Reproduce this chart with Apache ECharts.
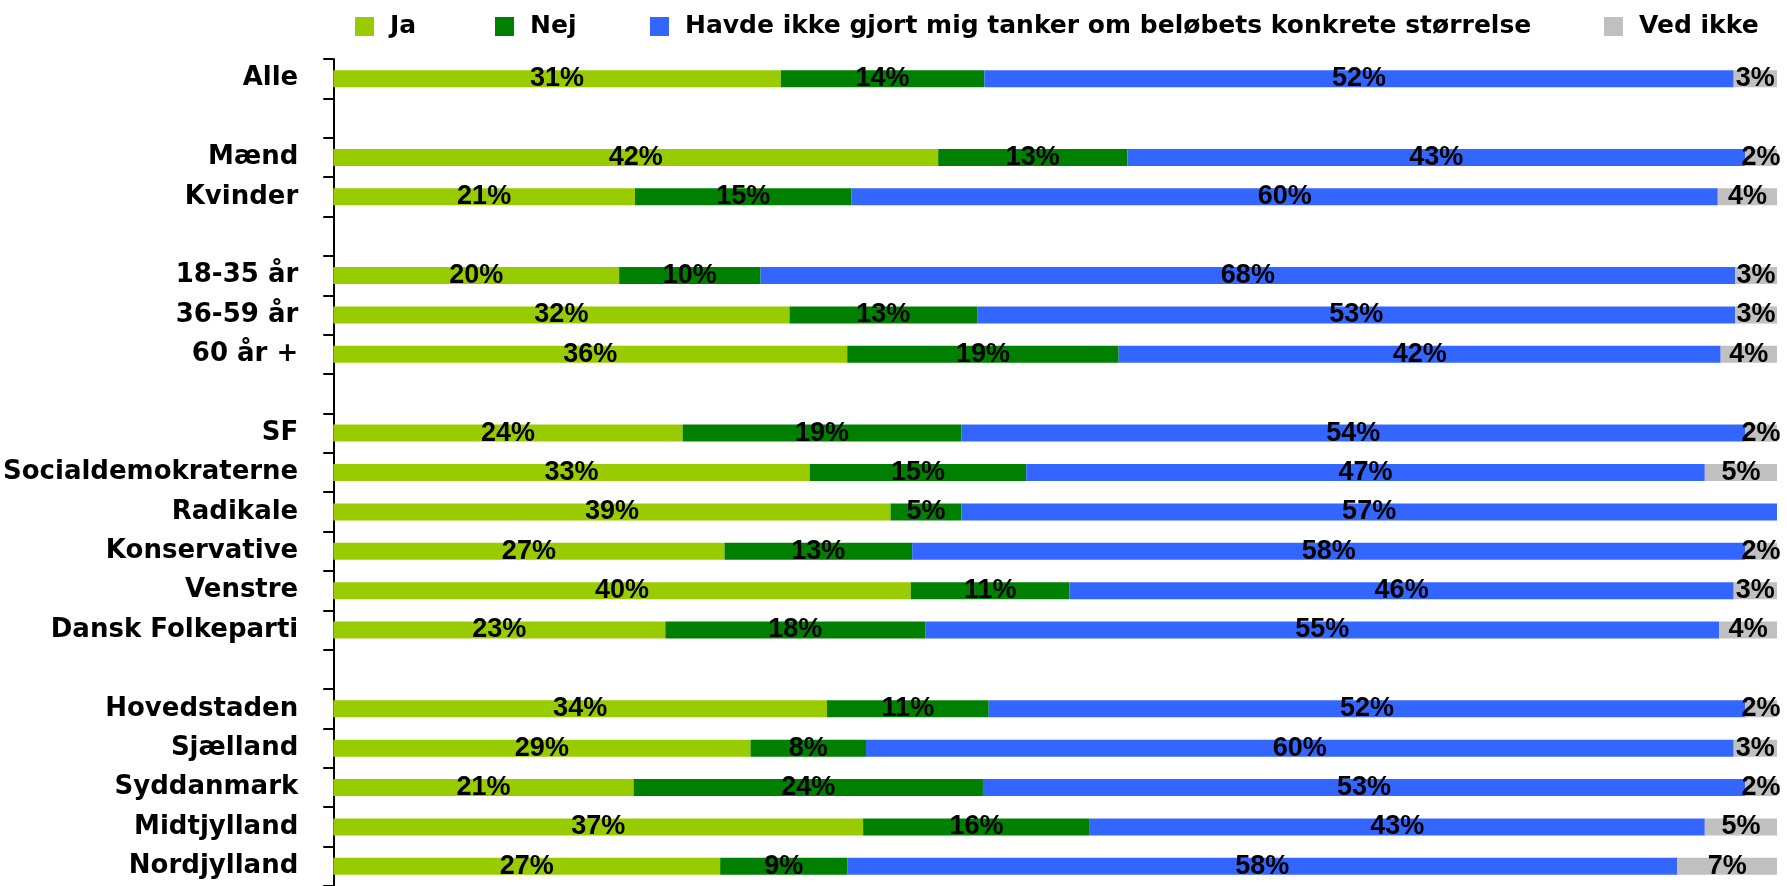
<!DOCTYPE html>
<html>
<head>
<meta charset="utf-8">
<script src="https://cdn.jsdelivr.net/npm/echarts@6/dist/echarts.min.js"></script>
<style>
html,body{margin:0;padding:0;background:#fff;}
#chart{width:1787px;height:886px;}
</style>
</head>
<body>
<div id="chart"></div>
<script>
const categories = ['Alle', ' ', 'Mænd', 'Kvinder', '  ', '18-35 år', '36-59 år', '60 år +', '   ',
  'SF', 'Socialdemokraterne', 'Radikale', 'Konservative', 'Venstre', 'Dansk Folkeparti', '    ',
  'Hovedstaden', 'Sjælland', 'Syddanmark', 'Midtjylland', 'Nordjylland'];
const seriesNames = ['Ja', 'Nej', 'Havde ikke gjort mig tanker om beløbets konkrete størrelse', 'Ved ikke'];
const ja      = [31.0, null, 41.9, 20.9, null, 19.8, 31.6, 35.6, null, 24.2, 33.0, 38.6, 27.1, 40.0, 23.0, null, 34.2, 28.9, 20.8, 36.7, 26.8];
const nej     = [14.1, null, 13.1, 15.0, null,  9.8, 13.0, 18.8, null, 19.3, 15.0,  4.9, 13.0, 11.0, 18.0, null, 11.2,  8.0, 24.2, 15.7,  8.8];
const havde   = [51.9, null, 42.8, 60.0, null, 67.5, 52.5, 41.7, null, 54.3, 47.0, 56.5, 57.7, 46.0, 55.0, null, 52.4, 60.1, 52.8, 42.6, 57.5];
const vedIkke = [ 3.0, null,  2.2,  4.1, null,  2.9,  2.9,  3.9, null,  2.2,  5.0,  0.0,  2.2,  3.0,  4.0, null,  2.2,  3.0,  2.2,  5.0,  6.9];
const colors = ['#99CC00', '#008000', '#3366FF', '#C0C0C0'];

const values = [ja, nej, havde, vedIkke];
const chart = echarts.init(document.getElementById('chart'));
const legendLefts = [355, 495, 650, 1604];
const option = {
  animation: false,
  color: colors,
  legend: seriesNames.map((n, i) => ({
    data: [n],
    left: legendLefts[i],
    top: 14,
    itemWidth: 19,
    itemHeight: 19,
    icon: 'rect',
    padding: 0,
    textStyle: {
      fontFamily: 'DejaVu Sans',
      fontWeight: 'bold',
      fontSize: 25,
      color: '#000',
      padding: [0, 0, 0, 11]
    }
  })),
  grid: { left: 327, right: 10, top: 59, bottom: -3, containLabel: false },
  xAxis: { type: 'value', min: 0, max: 100, show: false },
  yAxis: {
    type: 'category',
    inverse: true,
    data: categories,
    axisLine: { lineStyle: { color: '#000', width: 2 } },
    axisTick: { show: true, length: 10, interval: 0, lineStyle: { color: '#000', width: 2 } },
    axisLabel: {
      interval: 0,
      margin: 35,
      fontFamily: 'DejaVu Sans',
      fontWeight: 'bold',
      fontSize: 26,
      color: '#000',
      padding: [6, 0, 0, 0]
    }
  },
  series: seriesNames.map((n, i) => ({
    name: n,
    type: 'bar',
    stack: 'total',
    barWidth: 17,
    data: values[i],
    itemStyle: { color: colors[i] },
    label: {
      show: true,
      position: 'inside',
      fontFamily: 'Liberation Sans',
      fontWeight: 'bold',
      fontSize: 27,
      color: '#000',
      formatter: p => (p.value > 0 ? Math.round(p.value) + '%' : '')
    }
  }))
};
chart.setOption(option);
</script>
</body>
</html>
